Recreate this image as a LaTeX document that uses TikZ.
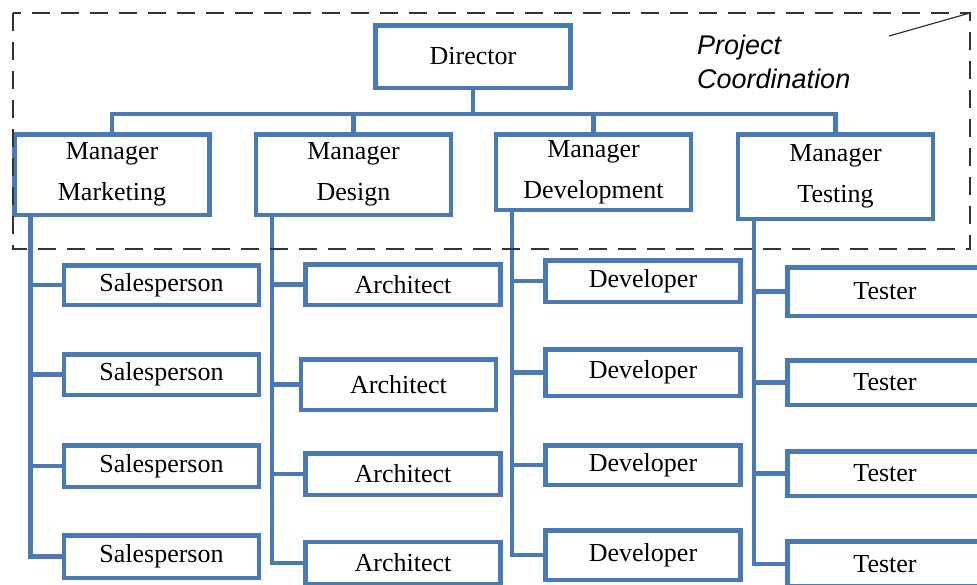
\documentclass[tikz,border=0pt]{standalone}
\usepackage{fontspec}
\setmainfont{Liberation Serif}
\setsansfont{Liberation Sans}
\definecolor{chartblue}{RGB}{74,122,181}

\begin{document}
\begin{tikzpicture}[x=1pt, y=-1pt,
    box/.style={draw=chartblue, line width=4.5pt, minimum width=195pt, inner sep=0pt,
      align=center, font=\fontsize{26}{41}\selectfont},
    link/.style={draw=chartblue, line width=4.5pt},
    group/.style={draw=black!80, line width=1.2pt, dash pattern=on 18pt off 11pt}]
    \clip (0,0) rectangle (977,584);

    % top of the chart
    \node[box, minimum height=62.5pt] (director) at (473,56.5) {Director};
    \node[box, minimum height=80.5pt] (mkt) at (112,174.5) {Manager\\Marketing};
    \node[box, minimum height=80.5pt] (des) at (353.5,174.5) {Manager\\Design};
    \node[box, minimum height=75.5pt] (dev) at (593.5,172) {Manager\\Development};
    \node[box, minimum height=84.5pt] (tst) at (835.5,176.5) {Manager\\Testing};

    % marketing team
    \node[box, minimum height=39.5pt] (sales1) at (161.5,285) {Salesperson};
    \node[box, minimum height=40.5pt] (sales2) at (161.5,374.5) {Salesperson};
    \node[box, minimum height=41.5pt] (sales3) at (161.5,466) {Salesperson};
    \node[box, minimum height=42.5pt] (sales4) at (161.5,556.5) {Salesperson};

    % design team
    \node[box, minimum height=40.5pt] (arch1) at (403,284.5) {Architect};
    \node[box, minimum height=50.5pt] (arch2) at (398.5,384.5) {Architect};
    \node[box, minimum height=41.5pt] (arch3) at (403,474) {Architect};
    \node[box, minimum height=42pt] (arch4) at (403,563) {Architect};

    % development team
    \node[box, minimum height=41.5pt] (devel1) at (643,281) {Developer};
    \node[box, minimum height=46.5pt] (devel2) at (643,372.5) {Developer};
    \node[box, minimum height=39.5pt] (devel3) at (643,465) {Developer};
    \node[box, minimum height=49.5pt] (devel4) at (643,555) {Developer};

    % testing team
    \node[box, minimum height=48.5pt] (tester1) at (885,291.5) {Tester};
    \node[box, minimum height=44.5pt] (tester2) at (885,382.5) {Tester};
    \node[box, minimum height=44.5pt] (tester3) at (885,473.5) {Tester};
    \node[box, minimum height=45pt] (tester4) at (885,564) {Tester};

    \draw[link] (director.south) -- ++(0,24) -| (mkt.north);
    \draw[link] (director.south) -- ++(0,24) -| (des.north);
    \draw[link] (director.south) -- ++(0,24) -| (dev.north);
    \draw[link] (director.south) -- ++(0,24) -| (tst.north);

    \draw[link] ([xshift=18pt]mkt.south west) |- (sales1.west);
    \draw[link] ([xshift=18pt]mkt.south west) |- (sales2.west);
    \draw[link] ([xshift=18pt]mkt.south west) |- (sales3.west);
    \draw[link] ([xshift=18pt]mkt.south west) |- (sales4.west);

    \draw[link] ([xshift=18pt]des.south west) |- (arch1.west);
    \draw[link] ([xshift=18pt]des.south west) |- (arch2.west);
    \draw[link] ([xshift=18pt]des.south west) |- (arch3.west);
    \draw[link] ([xshift=18pt]des.south west) |- (arch4.west);

    \draw[link] ([xshift=18pt]dev.south west) |- (devel1.west);
    \draw[link] ([xshift=18pt]dev.south west) |- (devel2.west);
    \draw[link] ([xshift=18pt]dev.south west) |- (devel3.west);
    \draw[link] ([xshift=18pt]dev.south west) |- (devel4.west);

    \draw[link] ([xshift=18pt]tst.south west) |- (tester1.west);
    \draw[link] ([xshift=18pt]tst.south west) |- (tester2.west);
    \draw[link] ([xshift=18pt]tst.south west) |- (tester3.west);
    \draw[link] ([xshift=18pt]tst.south west) |- (tester4.west);

    % project coordination area
    \draw[group] (13,13) rectangle (970,249);
    \coordinate (corner) at (970,13);
    \draw[line width=1.2pt, black!80] (889,36) -- (corner);
    \node[anchor=north west, inner sep=0pt, align=left,
      font=\sffamily\itshape\fontsize{27}{34}\selectfont] (coord) at (697,35) {Project\\Coordination};
\end{tikzpicture}
\end{document}
